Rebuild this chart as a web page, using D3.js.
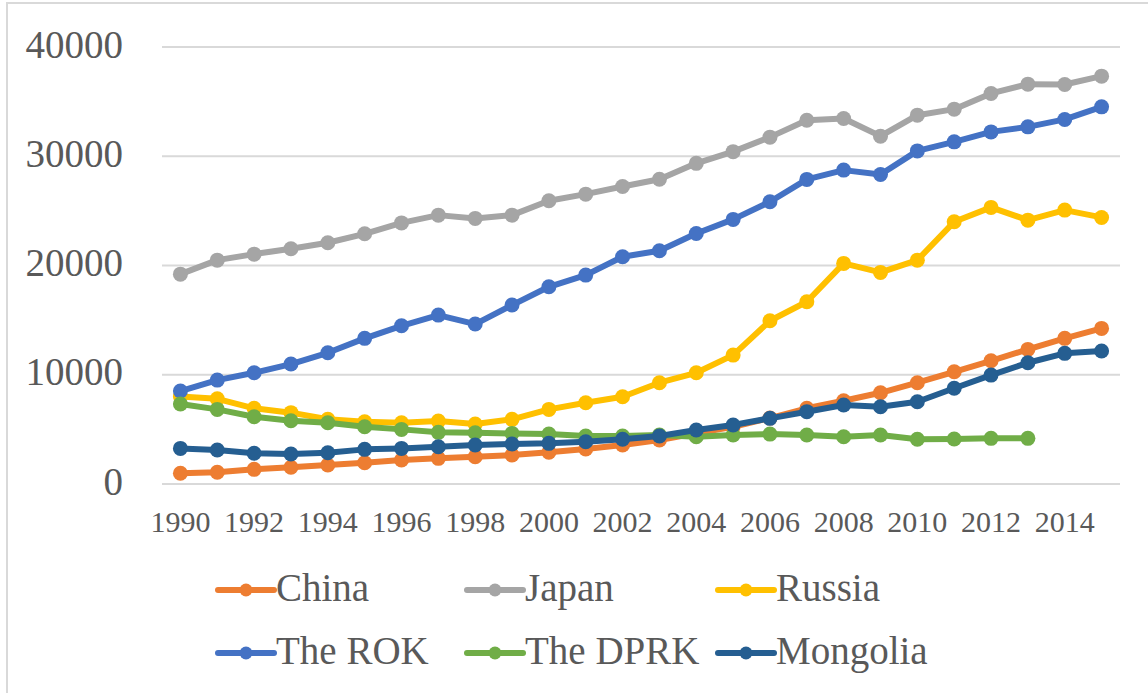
<!DOCTYPE html>
<html>
<head>
<meta charset="utf-8">
<script src="https://cdn.jsdelivr.net/npm/d3@7"></script>
<style>
  body { margin: 0; background: #fff; }
  svg text { font-family: "Liberation Serif", "Times New Roman", serif; fill: #595959; }
</style>
</head>
<body>
<div id="chartdiv"></div>
<script>
// Data.
var years = d3.range(1990, 2016);
var yTicks = [0, 10000, 20000, 30000, 40000];
var seriesNames = ['China', 'Japan', 'Russia', 'The ROK', 'The DPRK', 'Mongolia'];
var seriesColors = ['#ED7D31', '#A5A5A5', '#FFC000', '#4472C4', '#70AD47', '#255E91'];

var china = [980, 1070, 1340, 1530, 1740, 1950, 2200, 2350, 2500, 2650, 2900, 3200, 3570, 4030, 4630, 5240, 6030,
             6930, 7620, 8350, 9270, 10270, 11280, 12320, 13330, 14240];
var japan = [19210, 20490, 21040, 21530, 22080, 22900, 23900, 24610, 24310, 24610, 25930, 26530, 27230, 27890, 29350, 30420, 31750,
             33300, 33460, 31840, 33760, 34310, 35750, 36600, 36570, 37330];
var russia = [8000, 7800, 6930, 6530, 5920, 5700, 5610, 5760, 5490, 5920, 6830, 7440, 7990, 9270, 10180, 11800, 14940,
              16680, 20190, 19370, 20490, 24000, 25320, 24150, 25070, 24400];
var rok = [8510, 9510, 10180, 10980, 12010, 13330, 14480, 15460, 14640, 16380, 18050, 19120, 20800, 21350, 22930, 24220, 25830,
           27880, 28730, 28330, 30490, 31320, 32230, 32690, 33370, 34520];
var dprk = [7320, 6830, 6160, 5790, 5610, 5240, 5000, 4730, 4690, 4630, 4570, 4390, 4390, 4480, 4330, 4480, 4570,
            4480, 4330, 4480, 4090, 4120, 4180, 4180, null, null];
var mongolia = [3260, 3110, 2810, 2740, 2860, 3170, 3260, 3410, 3570, 3660, 3720, 3870, 4090, 4390, 4940, 5400, 6010,
                6620, 7230, 7070, 7530, 8760, 9970, 11100, 11960, 12170];

var seriesValues = [china, japan, russia, rok, dprk, mongolia];

// Dimensions.
var W = 1148, H = 693;
var plot = { left: 162, right: 1120, top: 47, bottom: 484 };
var serif = '"Liberation Serif", "Times New Roman", serif';

var svg = d3.select('#chartdiv')
    .append('svg')
    .attr('width', W)
    .attr('height', H);

// chart border (only top/left visible in the picture)
svg.append('rect')
    .attr('x', 7).attr('y', 3)
    .attr('width', W + 20).attr('height', H + 20)
    .attr('fill', 'none')
    .attr('stroke', '#D9D9D9')
    .attr('stroke-width', 2);

var xScale = d3.scaleBand()
    .domain(years)
    .range([plot.left, plot.right]);

var yScale = d3.scaleLinear()
    .domain([0, 40000])
    .range([plot.bottom, plot.top]);

// gridlines
svg.append('g')
    .selectAll('line')
    .data(yTicks)
    .enter().append('line')
    .attr('x1', plot.left)
    .attr('x2', plot.right)
    .attr('y1', d => yScale(d))
    .attr('y2', d => yScale(d))
    .attr('stroke', '#D9D9D9')
    .attr('stroke-width', 2);

// y axis labels
var yAxis = d3.axisLeft(yScale).tickValues(yTicks).tickSize(0).tickPadding(0).tickFormat(d3.format('d'));
var yg = svg.append('g')
    .attr('transform', 'translate(123,0)')
    .call(yAxis)
    .attr('font-family', serif)
    .attr('font-size', 39);
yg.select('.domain').remove();
yg.selectAll('text')
    .attr('dy', null)
    .attr('y', 10)
    .attr('fill', null);

// x axis labels, every other year
var xAxis = d3.axisBottom(xScale)
    .tickValues(years.filter(d => d % 2 === 0))
    .tickSize(0).tickPadding(0);
var xg = svg.append('g')
    .attr('transform', 'translate(0,' + plot.bottom + ')')
    .call(xAxis)
    .attr('font-family', serif)
    .attr('font-size', 30);
xg.select('.domain').remove();
xg.selectAll('text')
    .attr('dy', null)
    .attr('y', 48)
    .attr('fill', null);

var cx = d => xScale(d) + xScale.bandwidth() / 2;

var line = d3.line()
    .defined(d => d.v != null)
    .x(d => cx(d.year))
    .y(d => yScale(d.v));

seriesNames.forEach(function (name, i) {
    var pts = years.map((y, j) => ({ year: y, v: seriesValues[i][j] }));
    var g = svg.append('g');
    g.append('path')
        .datum(pts)
        .attr('d', line)
        .attr('fill', 'none')
        .attr('stroke', seriesColors[i])
        .attr('stroke-width', 6)
        .attr('stroke-linejoin', 'round')
        .attr('stroke-linecap', 'round');
    g.selectAll('circle')
        .data(pts.filter(d => d.v != null))
        .enter().append('circle')
        .attr('cx', d => cx(d.year))
        .attr('cy', d => yScale(d.v))
        .attr('r', 7.5)
        .attr('fill', seriesColors[i]);
});

// legend
var legendX = [218, 467, 718];
var legendY = [590, 653];
var legend = svg.append('g')
    .selectAll('g')
    .data(seriesNames)
    .enter().append('g')
    .attr('transform', (d, i) => 'translate(' + legendX[i % 3] + ',' + legendY[Math.floor(i / 3)] + ')');
legend.append('line')
    .attr('x1', 0).attr('x2', 56)
    .attr('y1', 0).attr('y2', 0)
    .attr('stroke', (d, i) => seriesColors[i])
    .attr('stroke-width', 6)
    .attr('stroke-linecap', 'round');
legend.append('circle')
    .attr('cx', 28).attr('cy', 0)
    .attr('r', 6.5)
    .attr('fill', (d, i) => seriesColors[i]);
legend.append('text')
    .attr('x', 58)
    .attr('y', 11)
    .attr('font-size', 39)
    .text(d => d);
</script>
</body>
</html>
